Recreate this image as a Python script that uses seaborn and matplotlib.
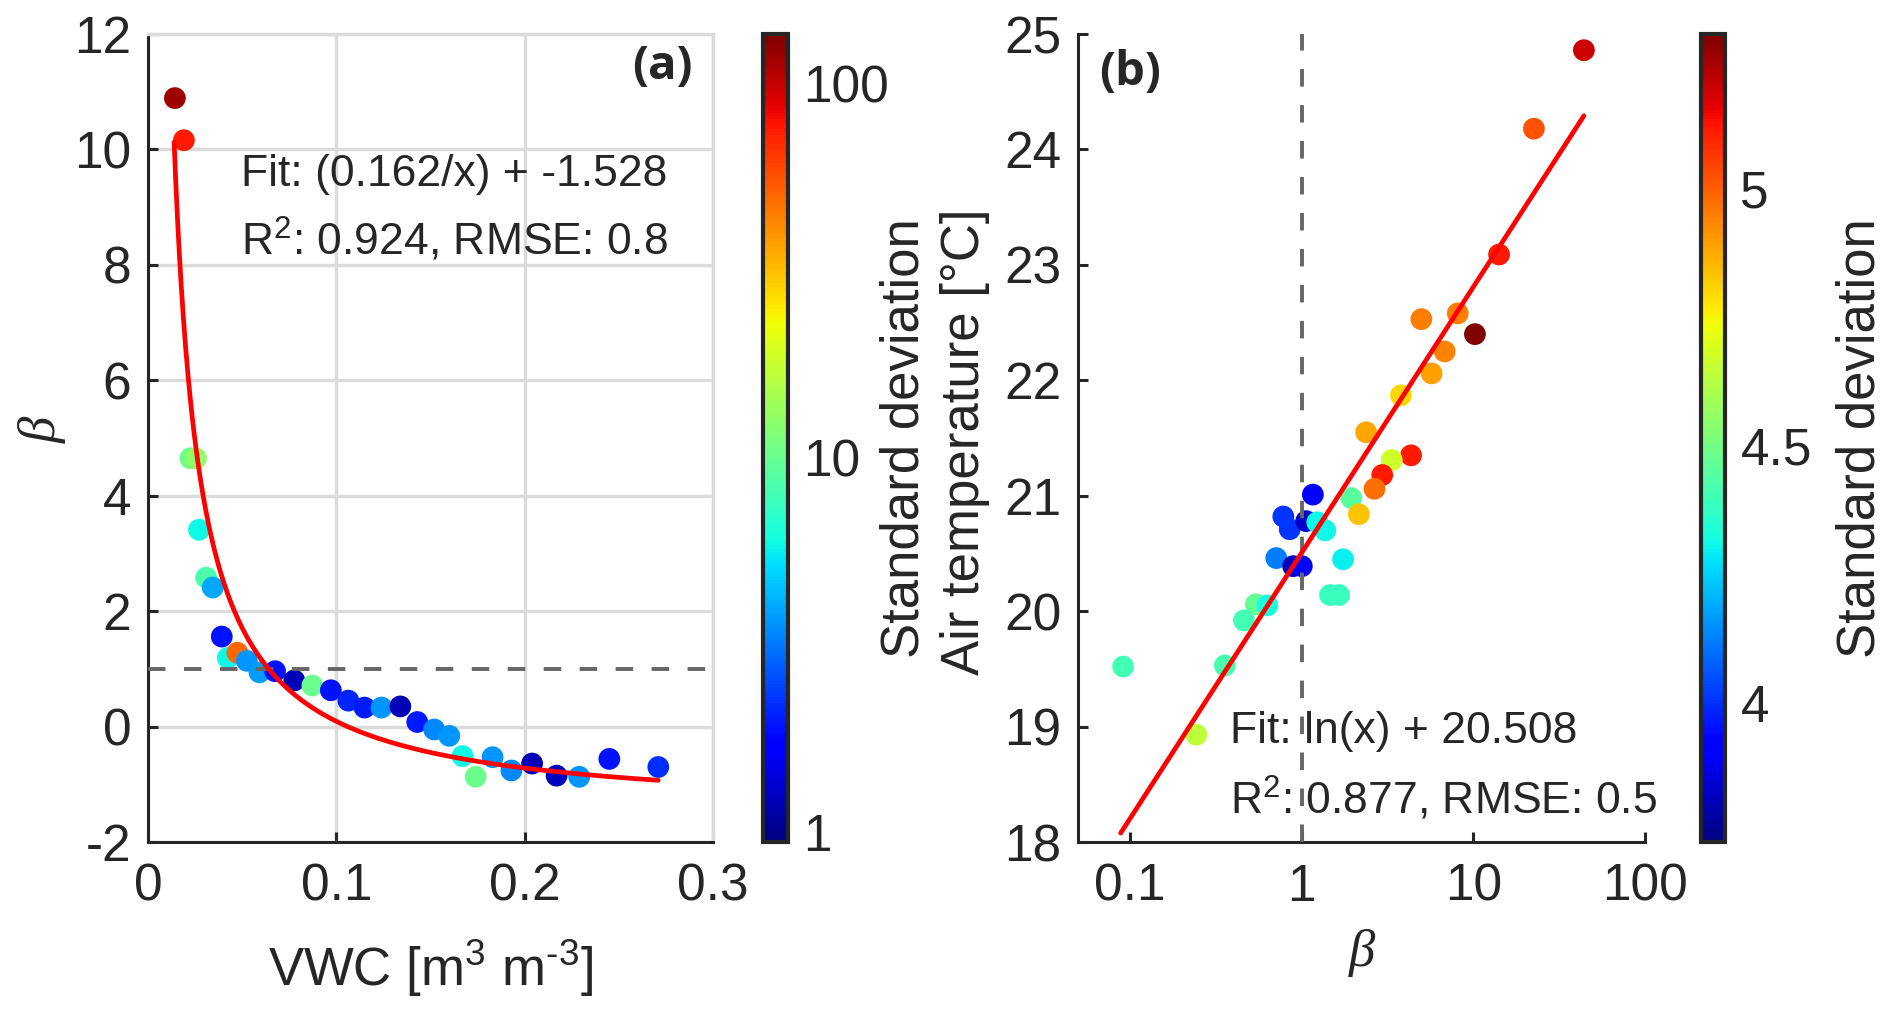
import numpy as np
import pandas as pd
import matplotlib
matplotlib.use('Agg')
import matplotlib.pyplot as plt
import matplotlib.colors as mcolors
import matplotlib.ticker as mticker
import seaborn as sns

# ---- panel (a): beta vs VWC ----
vwc = [0.0143, 0.0191, 0.0225, 0.0255, 0.0271, 0.0309, 0.0344, 0.0392, 0.0424,
       0.0475, 0.0525, 0.0592, 0.0675, 0.0777, 0.0873, 0.0971, 0.1064, 0.1150,
       0.1240, 0.1340, 0.1430, 0.1520, 0.1600, 0.1670, 0.1740, 0.1830, 0.1930,
       0.2040, 0.2170, 0.2290, 0.2450, 0.2710]
beta_a = [10.89, 10.16, 4.65, 4.65, 3.41, 2.58, 2.41, 1.56, 1.19,
          1.28, 1.14, 0.94, 0.96, 0.80, 0.71, 0.63, 0.45, 0.33,
          0.33, 0.35, 0.08, -0.05, -0.16, -0.51, -0.87, -0.53, -0.76,
          -0.64, -0.85, -0.87, -0.56, -0.70]
sd_a = [117, 75, 10.5, 12.5, 5.9, 8.4, 4.0, 1.9, 5.9,
        50, 3.6, 3.8, 1.9, 1.2, 10.2, 1.9, 2.1, 2.0,
        3.6, 1.2, 2.0, 3.4, 3.6, 5.9, 10.2, 3.6, 3.4,
        1.2, 1.25, 3.6, 1.9, 2.2]
fit_a = (0.162, -1.528)   # beta = a/x + b

# ---- panel (b): air temperature vs beta ----
beta_b = [44, 22.5, 14.1, 8.1, 4.97, 10.2, 6.8, 5.7, 3.78, 2.37, 4.33, 3.34,
          2.94, 2.65, 1.94, 2.15, 1.16, 0.78, 0.85, 1.06, 1.23, 1.37, 0.71,
          1.74, 0.89, 1.0, 1.46, 1.65, 0.54, 0.63, 0.46, 0.356, 0.091, 0.243]
air_t = [24.86, 24.18, 23.09, 22.58, 22.53, 22.40, 22.25, 22.06, 21.87, 21.55,
         21.35, 21.31, 21.18, 21.06, 20.98, 20.84, 21.01, 20.82, 20.71, 20.78,
         20.77, 20.70, 20.46, 20.45, 20.39, 20.39, 20.14, 20.14, 20.06, 20.05,
         19.92, 19.53, 19.52, 18.93]
sd_b = [5.19, 5.02, 5.11, 4.95, 4.95, 5.30, 4.94, 4.89, 4.80, 4.88, 5.11, 4.67,
        5.11, 4.97, 4.45, 4.83, 3.92, 4.01, 4.01, 3.84, 4.31, 4.31, 4.12, 4.30,
        3.82, 3.92, 4.39, 4.39, 4.47, 4.33, 4.41, 4.42, 4.41, 4.64]
fit_b = 20.508   # T = ln(x) + b

df_a = pd.DataFrame({'VWC': vwc, 'beta': beta_a, 'sd': sd_a})
df_b = pd.DataFrame({'beta': beta_b, 'T': air_t, 'sd': sd_b})

sns.set_style('white')
plt.rcParams['font.family'] = ['Liberation Sans', 'DejaVu Sans']
plt.rcParams['mathtext.fontset'] = 'custom'
plt.rcParams['mathtext.rm'] = 'Liberation Sans'
plt.rcParams['mathtext.it'] = 'Liberation Sans:italic'
plt.rcParams['axes.unicode_minus'] = False

jet = matplotlib.colormaps['jet']
dark = '0.15'
tick_fs = 37
label_fs = 38
note_fs = 32
panel_font = ['Open Sans', 'DejaVu Sans']

fig = plt.figure(figsize=(18.92, 10.25), dpi=100)
ax1 = fig.add_axes([0.0782, 0.1785, 0.2986, 0.7883])
cax1 = fig.add_axes([0.4033, 0.1785, 0.0132, 0.7883])
ax2 = fig.add_axes([0.5698, 0.1785, 0.2997, 0.7883])
cax2 = fig.add_axes([0.8991, 0.1785, 0.0127, 0.7883])

norm_a = mcolors.LogNorm(vmin=0.94, vmax=136)
norm_b = mcolors.Normalize(vmin=3.73, vmax=5.30)

# panel (a)
sns.scatterplot(data=df_a, x='VWC', y='beta', hue='sd', palette=jet,
                hue_norm=norm_a, s=245, linewidth=0, legend=False, ax=ax1, zorder=3)
ax1.axhline(1, color='0.4', lw=2.8, dashes=(4.5, 4.75), zorder=4)
xa = np.geomspace(0.0139, vwc[-1], 200)
sns.lineplot(x=xa, y=fit_a[0] / xa + fit_a[1], color='red', lw=3.4,
             ax=ax1, zorder=5, estimator=None, sort=False)
ax1.set_xlim(0, 0.3)
ax1.set_ylim(-2, 12)
ax1.set_xticks([0, 0.1, 0.2, 0.3])
ax1.set_xticklabels(['0', '0.1', '0.2', '0.3'])
ax1.set_yticks(range(-2, 13, 2))
ax1.grid(True, color='0.86', lw=2.4)
for s in ['top', 'right']:
    ax1.spines[s].set_color('0.86')
    ax1.spines[s].set_linewidth(2.4)
for s in ['left', 'bottom']:
    ax1.spines[s].set_color(dark)
    ax1.spines[s].set_linewidth(2.2)
ax1.tick_params(direction='in', length=7.5, width=2.2, labelsize=tick_fs,
                colors=dark, bottom=True, left=True)
ax1.tick_params(axis='x', pad=15)
ax1.tick_params(axis='y', pad=12)
ax1.set_xlabel(r'VWC [m$^3$ m$^{\text{-}3}$]', fontsize=label_fs, color=dark)
ax1.set_ylabel('β', fontsize=label_fs, family='Liberation Serif', style='italic',
               color=dark)
ax1.xaxis.set_label_coords(0.5, -0.118)
ax1.yaxis.set_label_coords(-0.143, 0.51)
ax1.text(0.0494, 9.56, 'Fit: (0.162/x) + -1.528', fontsize=note_fs, va='center')
ax1.text(0.0494, 8.43, 'R$^2$: 0.924, RMSE: 0.8', fontsize=note_fs, va='center')
ax1.text(0.2894, 11.43, '(a)', fontsize=34, fontweight='bold', ha='right',
         va='center', family=panel_font)

sm_a = plt.cm.ScalarMappable(norm=norm_a, cmap=jet)
cb1 = fig.colorbar(sm_a, cax=cax1)
cb1.outline.set_linewidth(3)
cb1.outline.set_edgecolor(dark)
cb1.set_ticks([1, 10, 100])
cb1.set_ticklabels(['1', '10', '100'])
cax1.tick_params(which='major', direction='in', length=9, width=2.2,
                 labelsize=tick_fs, colors=dark, pad=11, right=True)
cax1.tick_params(which='minor', direction='in', length=5, width=2,
                 colors=dark, right=True)
cb1.set_label('Standard deviation', fontsize=label_fs, color=dark)
cax1.yaxis.set_label_coords(4.68, 0.5)

# panel (b)
sns.scatterplot(data=df_b, x='beta', y='T', hue='sd', palette=jet,
                hue_norm=norm_b, s=245, linewidth=0, legend=False, ax=ax2, zorder=3)
ax2.axvline(1, color='0.4', lw=2.8, dashes=(4.5, 4.75), zorder=4)
xb = np.geomspace(0.088, max(beta_b), 100)
sns.lineplot(x=xb, y=np.log(xb) + fit_b, color='red', lw=3.4, ax=ax2,
             zorder=5, estimator=None, sort=False)
ax2.set_xscale('log')
ax2.set_xlim(0.0497, 100)
ax2.set_ylim(18, 25)
ax2.set_xticks([0.1, 1, 10, 100])
ax2.set_xticklabels(['0.1', '1', '10', '100'])
ax2.xaxis.set_minor_locator(mticker.LogLocator(base=10, subs=np.arange(2, 10)))
ax2.xaxis.set_minor_formatter(mticker.NullFormatter())
ax2.set_yticks(range(18, 26))
for s in ['top', 'right']:
    ax2.spines[s].set_visible(False)
for s in ['left', 'bottom']:
    ax2.spines[s].set_color(dark)
    ax2.spines[s].set_linewidth(2.2)
ax2.tick_params(which='major', direction='in', length=7.5, width=2.2,
                labelsize=tick_fs, colors=dark, bottom=True, left=True)
ax2.tick_params(which='minor', direction='in', length=5, width=2,
                colors=dark, bottom=True)
ax2.tick_params(axis='x', pad=15)
ax2.tick_params(axis='y', pad=12)
ax2.set_xlabel('β', fontsize=label_fs, family='Liberation Serif', style='italic',
               color=dark)
ax2.set_ylabel('Air temperature [°C]', fontsize=label_fs, color=dark)
ax2.xaxis.set_label_coords(0.5, -0.108)
ax2.yaxis.set_label_coords(-0.155, 0.495)
ax2.text(0.382, 18.96, 'Fit: ln(x) + 20.508', fontsize=note_fs, va='center', zorder=6)
ax2.text(0.382, 18.37, 'R$^2$: 0.877, RMSE: 0.5', fontsize=note_fs, va='center',
         zorder=6)
ax2.text(0.0655, 24.67, '(b)', fontsize=34, fontweight='bold', ha='left',
         va='center', family=panel_font)

sm_b = plt.cm.ScalarMappable(norm=norm_b, cmap=jet)
cb2 = fig.colorbar(sm_b, cax=cax2)
cb2.outline.set_linewidth(3)
cb2.outline.set_edgecolor(dark)
cb2.set_ticks([4, 4.5, 5])
cb2.set_ticklabels(['4', '4.5', '5'])
cax2.minorticks_off()
cax2.tick_params(direction='in', length=9, width=2.2, labelsize=tick_fs,
                 colors=dark, pad=11, right=True)
cb2.set_label('Standard deviation', fontsize=label_fs, color=dark)
cax2.yaxis.set_label_coords(5.6, 0.5)

fig.savefig('out.png', dpi=100, facecolor='white')
